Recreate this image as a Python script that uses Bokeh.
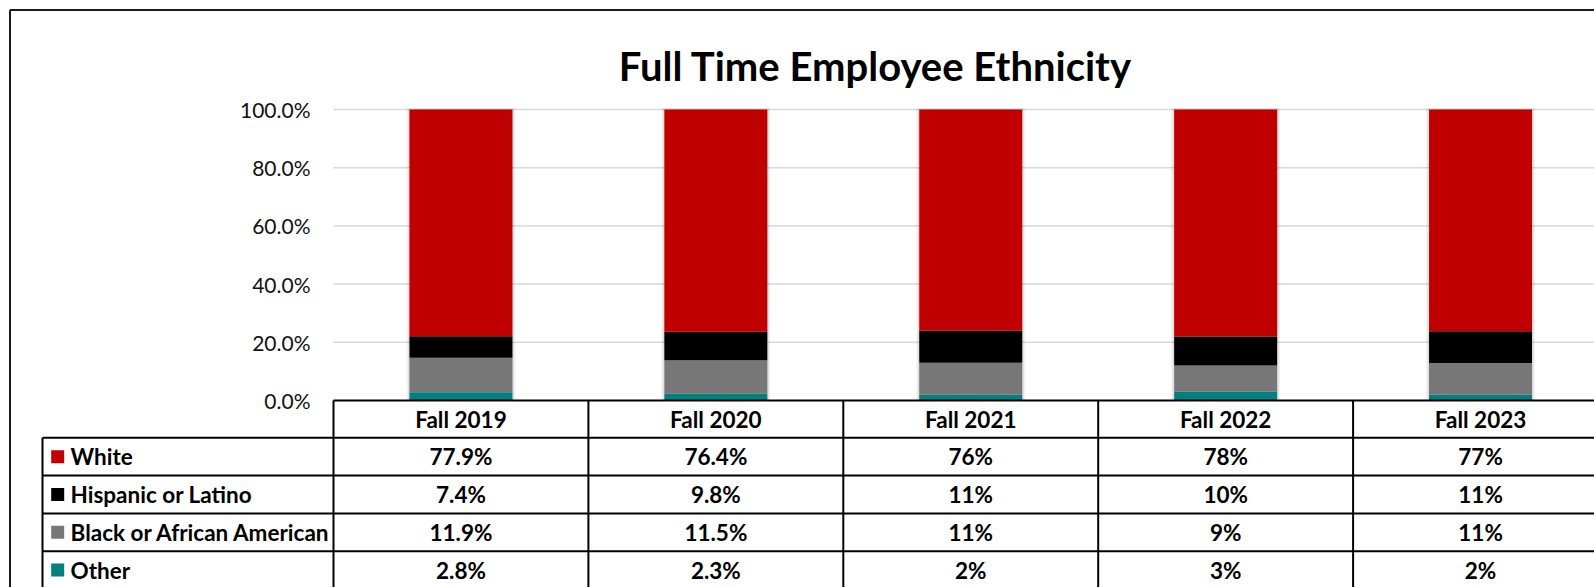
from bokeh.plotting import figure
from bokeh.models import Range1d, LinearAxis, FixedTicker, PrintfTickFormatter
from bokeh.core.properties import value
from bokeh.embed import file_html
from bokeh.resources import INLINE

# ---------------- data ----------------
title_text = "Full Time Employee Ethnicity"
years = ["Fall 2019", "Fall 2020", "Fall 2021", "Fall 2022", "Fall 2023"]
groups = ["White", "Hispanic or Latino", "Black or African American", "Other"]
white = [77.9, 76.4, 76, 78, 77]
hispanic = [7.4, 9.8, 11, 10, 11]
black = [11.9, 11.5, 11, 9, 11]
other = [2.8, 2.3, 2, 3, 2]
y_ticks = [0, 20, 40, 60, 80, 100]
colors = ["#C00000", "#000000", "#777777", "#008080"]

series = [white, hispanic, black, other]

# ---------------- layout constants (page pixels) ----------------
W, H = 1594, 587
PAGE_X0, PAGE_Y0 = 0, 0
PLOT_LEFT = 333.0      # left of plot area
CAT_W = 254.9          # category width in px
ZERO_Y = 400.0         # page y of 0%
PX_PER_PCT = 2.91      # px per percent
TABLE_LEFT = 42.0
HEADER_H = 37.3
ROW_H = 37.8
FONT = "Lato"
TABLE_FS = "22.5px"


def X(px):
    return (px - PLOT_LEFT) / CAT_W


def Y(py):
    return (ZERO_Y - py) / PX_PER_PCT


p = figure(width=W, height=H, output_backend="svg", toolbar_location=None,
           x_range=Range1d(X(PAGE_X0), X(PAGE_X0 + W)),
           y_range=Range1d(Y(PAGE_Y0 + H), Y(PAGE_Y0)),
           x_axis_location=None, y_axis_location=None,
           min_border=0, outline_line_color=None)
p.xgrid.visible = False
p.ygrid.visible = False
p.background_fill_color = "white"
p.border_fill_color = "white"

n = len(years)
xc = [i + 0.5 for i in range(n)]
x_end = X(PAGE_X0 + W) + 0.1

# gridlines
gy = [t for t in y_ticks if t > 0]
p.segment(x0=[0] * len(gy), x1=[x_end] * len(gy), y0=gy, y1=gy,
          line_color="#D9D9D9", line_width=1.5)

# y axis drawn at the plot-area left edge
yaxis = LinearAxis(fixed_location=0, ticker=FixedTicker(ticks=y_ticks),
                   formatter=PrintfTickFormatter(format="%.1f%%"))
yaxis.axis_line_color = None
yaxis.major_tick_line_color = None
yaxis.minor_tick_line_color = None
yaxis.major_tick_in = 0
yaxis.major_tick_out = 0
yaxis.major_label_standoff = 23
yaxis.major_label_text_font = FONT
yaxis.major_label_text_font_size = "21px"
yaxis.major_label_text_color = "#111111"
p.add_layout(yaxis, "left")

# stacked bars (100% stacked), bottom -> top: Other, Black, Hispanic, White
totals = [sum(s[i] for s in series) for i in range(n)]
bar_w = 103.0 / CAT_W
# soft shadow
p.vbar(x=xc, width=bar_w + 6 / CAT_W, bottom=0, top=100 + 1.5 / PX_PER_PCT,
       fill_color="#000000", fill_alpha=0.05, line_color=None)
p.vbar(x=xc, width=bar_w + 3 / CAT_W, bottom=0, top=100 + 0.7 / PX_PER_PCT,
       fill_color="#000000", fill_alpha=0.08, line_color=None)
bottoms = [0.0] * n
for s, c in reversed(list(zip(series, colors))):
    pct = [s[i] / totals[i] * 100 for i in range(n)]
    tops = [bottoms[i] + pct[i] for i in range(n)]
    p.vbar(x=xc, width=bar_w, bottom=bottoms, top=tops, fill_color=c, line_color=None)
    bottoms = tops

# table lines
lw = 2
row_lines_px = [ZERO_Y + HEADER_H + k * ROW_H for k in range(len(groups) + 1)]
hx0 = [0]
hx1 = [x_end]
hy = [0]
for py in row_lines_px:
    hx0.append(X(TABLE_LEFT))
    hx1.append(x_end)
    hy.append(Y(py))
p.segment(x0=hx0, x1=hx1, y0=hy, y1=hy, line_color="black", line_width=lw)
y_bottom = Y(PAGE_Y0 + H + 20)
vx = [X(TABLE_LEFT)] + list(range(n + 1))
vy0 = [Y(ZERO_Y + HEADER_H)] + [0] * (n + 1)
p.segment(x0=vx, x1=vx, y0=vy0, y1=[y_bottom] * len(vx), line_color="black", line_width=lw)

# header text
hdr_y = Y(ZERO_Y + HEADER_H / 2)
p.text(x=xc, y=[hdr_y] * n, text=years, text_align="center", text_baseline="middle",
       text_font=value(FONT), text_font_style="bold", text_font_size=TABLE_FS, text_color="black")

# rows
for r, (g, s, c) in enumerate(zip(groups, series, colors)):
    cy = Y(ZERO_Y + HEADER_H + (r + 0.5) * ROW_H)
    p.scatter(x=[X(57.2)], y=[cy], marker="square", size=13, fill_color=c, line_color=None)
    p.text(x=[X(70)], y=[cy], text=[g], text_align="left", text_baseline="middle",
           text_font=value(FONT), text_font_style="bold", text_font_size=TABLE_FS, text_color="black")
    labels = [f"{v:g}%" for v in s]
    p.text(x=xc, y=[cy] * n, text=labels, text_align="center", text_baseline="middle",
           text_font=value(FONT), text_font_style="bold", text_font_size=TABLE_FS, text_color="black")

# title
p.text(x=[X(875)], y=[Y(65)], text=[title_text], text_align="center", text_baseline="middle",
       text_font=value(FONT), text_font_style="bold", text_font_size="40px", text_color="black")

# outer border (left and top visible)
bx = X(9.5)
by = Y(9.5)
p.segment(x0=[bx, bx], x1=[bx, x_end], y0=[y_bottom, by], y1=[by, by],
          line_color="#1a1a1a", line_width=2)

open("out.html", "w").write(file_html(p, INLINE))
